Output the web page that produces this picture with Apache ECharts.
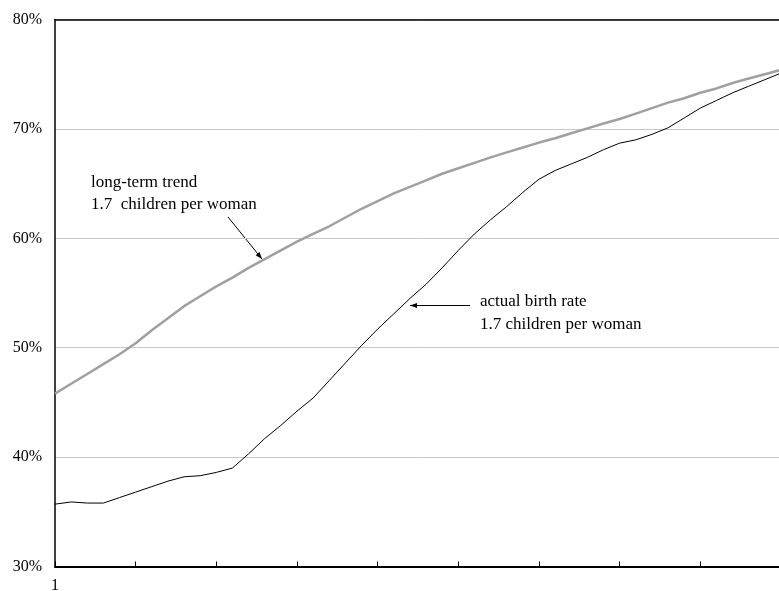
<!DOCTYPE html>
<html>
<head>
<meta charset="utf-8">
<script src="https://cdn.jsdelivr.net/npm/echarts@6/dist/echarts.min.js"></script>
<style>
html,body{margin:0;padding:0;background:#fff;}
#chart{width:779px;height:591px;}
</style>
</head>
<body>
<div id="chart"></div>
<script>
// x categories (periods 1..46); only the first one is labelled
const categories = ["1","2","3","4","5","6","7","8","9","10","11","12","13","14","15","16","17","18","19","20","21","22","23","24","25","26","27","28","29","30","31","32","33","34","35","36","37","38","39","40","41","42","43","44","45","46"];

// long-term trend, 1.7 children per woman (%)
const trendValues = [45.8,46.7,47.6,48.5,49.4,50.4,51.6,52.7,53.8,54.7,
  55.6,56.4,57.3,58.1,58.9,59.7,60.4,61.1,61.9,62.7,
  63.4,64.1,64.7,65.3,65.9,66.4,66.9,67.4,67.85,68.3,
  68.75,69.15,69.6,70.05,70.5,70.9,71.4,71.9,72.4,72.8,
  73.3,73.7,74.2,74.6,75.0,75.4];

// actual birth rate, 1.7 children per woman (%)
const actualValues = [35.7,35.9,35.8,35.8,36.3,36.8,37.3,37.8,38.2,38.3,
  38.6,39.0,40.3,41.7,42.9,44.2,45.4,47.0,48.6,50.2,
  51.7,53.1,54.5,55.8,57.3,58.9,60.4,61.7,62.9,64.2,
  65.4,66.2,66.8,67.4,68.1,68.7,69.0,69.5,70.1,71.0,
  71.9,72.6,73.3,73.9,74.5,75.1];

// y-axis ticks
const yMin = 30, yMax = 80, yStep = 10;

const FONT = '"Liberation Serif","Times New Roman",serif';

function arrowHead(x1, y1, x2, y2, len, half) {
  const dx = x2 - x1, dy = y2 - y1;
  const d = Math.sqrt(dx*dx + dy*dy);
  const ux = dx/d, uy = dy/d;
  const bx = x2 - ux*len, by = y2 - uy*len;
  return [[x2, y2], [bx - uy*half, by + ux*half], [bx + uy*half, by - ux*half]];
}

const chart = echarts.init(document.getElementById('chart'), null, {renderer: 'canvas'});

const a1 = [228, 217, 262, 259];
const a2 = [470, 305.5, 410, 305.5];

chart.setOption({
  animation: false,
  backgroundColor: '#fff',
  grid: {left: 55, width: 726, top: 19.5, height: 547, containLabel: false, outerBoundsMode: 'none'},
  xAxis: [{
    type: 'category',
    data: categories,
    boundaryGap: false,
    z: 3,
    axisLine: {lineStyle: {color: '#000', width: 2}},
    axisTick: {inside: true, length: 5, interval: 4, lineStyle: {color: '#000', width: 1}},
    axisLabel: {
      interval: function (i) { return i === 0; },
      color: '#000', fontFamily: FONT, fontSize: 16, margin: 11
    },
    splitLine: {show: false}
  }, {
    type: 'category',
    data: categories,
    boundaryGap: false,
    position: 'top',
    z: 3,
    axisLine: {show: true, lineStyle: {color: '#000', width: 1.5}},
    axisTick: {show: false},
    axisLabel: {show: false},
    splitLine: {show: false}
  }],
  yAxis: {
    type: 'value',
    min: yMin, max: yMax, interval: yStep,
    z: 3,
    axisLine: {show: true, lineStyle: {color: '#000', width: 1.5}},
    axisTick: {show: false},
    axisLabel: {formatter: '{value}%', color: '#000', fontFamily: FONT, fontSize: 16, margin: 13},
    splitLine: {show: true, lineStyle: {color: '#c8c8c8', width: 1}}
  },
  series: [
    {
      name: 'long-term trend', type: 'line', data: trendValues,
      symbol: 'none', smooth: false,
      lineStyle: {color: '#a0a0a0', width: 2.5}
    },
    {
      name: 'actual birth rate', type: 'line', data: actualValues,
      symbol: 'none', smooth: false,
      lineStyle: {color: '#000', width: 1}
    }
  ],
  graphic: [
    {type: 'text', left: 91, top: 174, style: {text: 'long-term trend', font: '17px ' + FONT, fill: '#000'}},
    {type: 'text', left: 91, top: 196, style: {text: '1.7  children per woman', font: '17px ' + FONT, fill: '#000'}},
    {type: 'line', shape: {x1: a1[0], y1: a1[1], x2: a1[2], y2: a1[3]}, style: {stroke: '#000', lineWidth: 1}},
    {type: 'polygon', shape: {points: arrowHead(a1[0], a1[1], a1[2], a1[3], 7, 2.5)}, style: {fill: '#000'}},
    {type: 'text', left: 480, top: 293, style: {text: 'actual birth rate', font: '17px ' + FONT, fill: '#000'}},
    {type: 'text', left: 480, top: 316, style: {text: '1.7 children per woman', font: '17px ' + FONT, fill: '#000'}},
    {type: 'line', shape: {x1: a2[0], y1: a2[1], x2: a2[2], y2: a2[3]}, style: {stroke: '#000', lineWidth: 1}},
    {type: 'polygon', shape: {points: arrowHead(a2[0], a2[1], a2[2], a2[3], 7, 2.5)}, style: {fill: '#000'}}
  ]
});
</script>
</body>
</html>
